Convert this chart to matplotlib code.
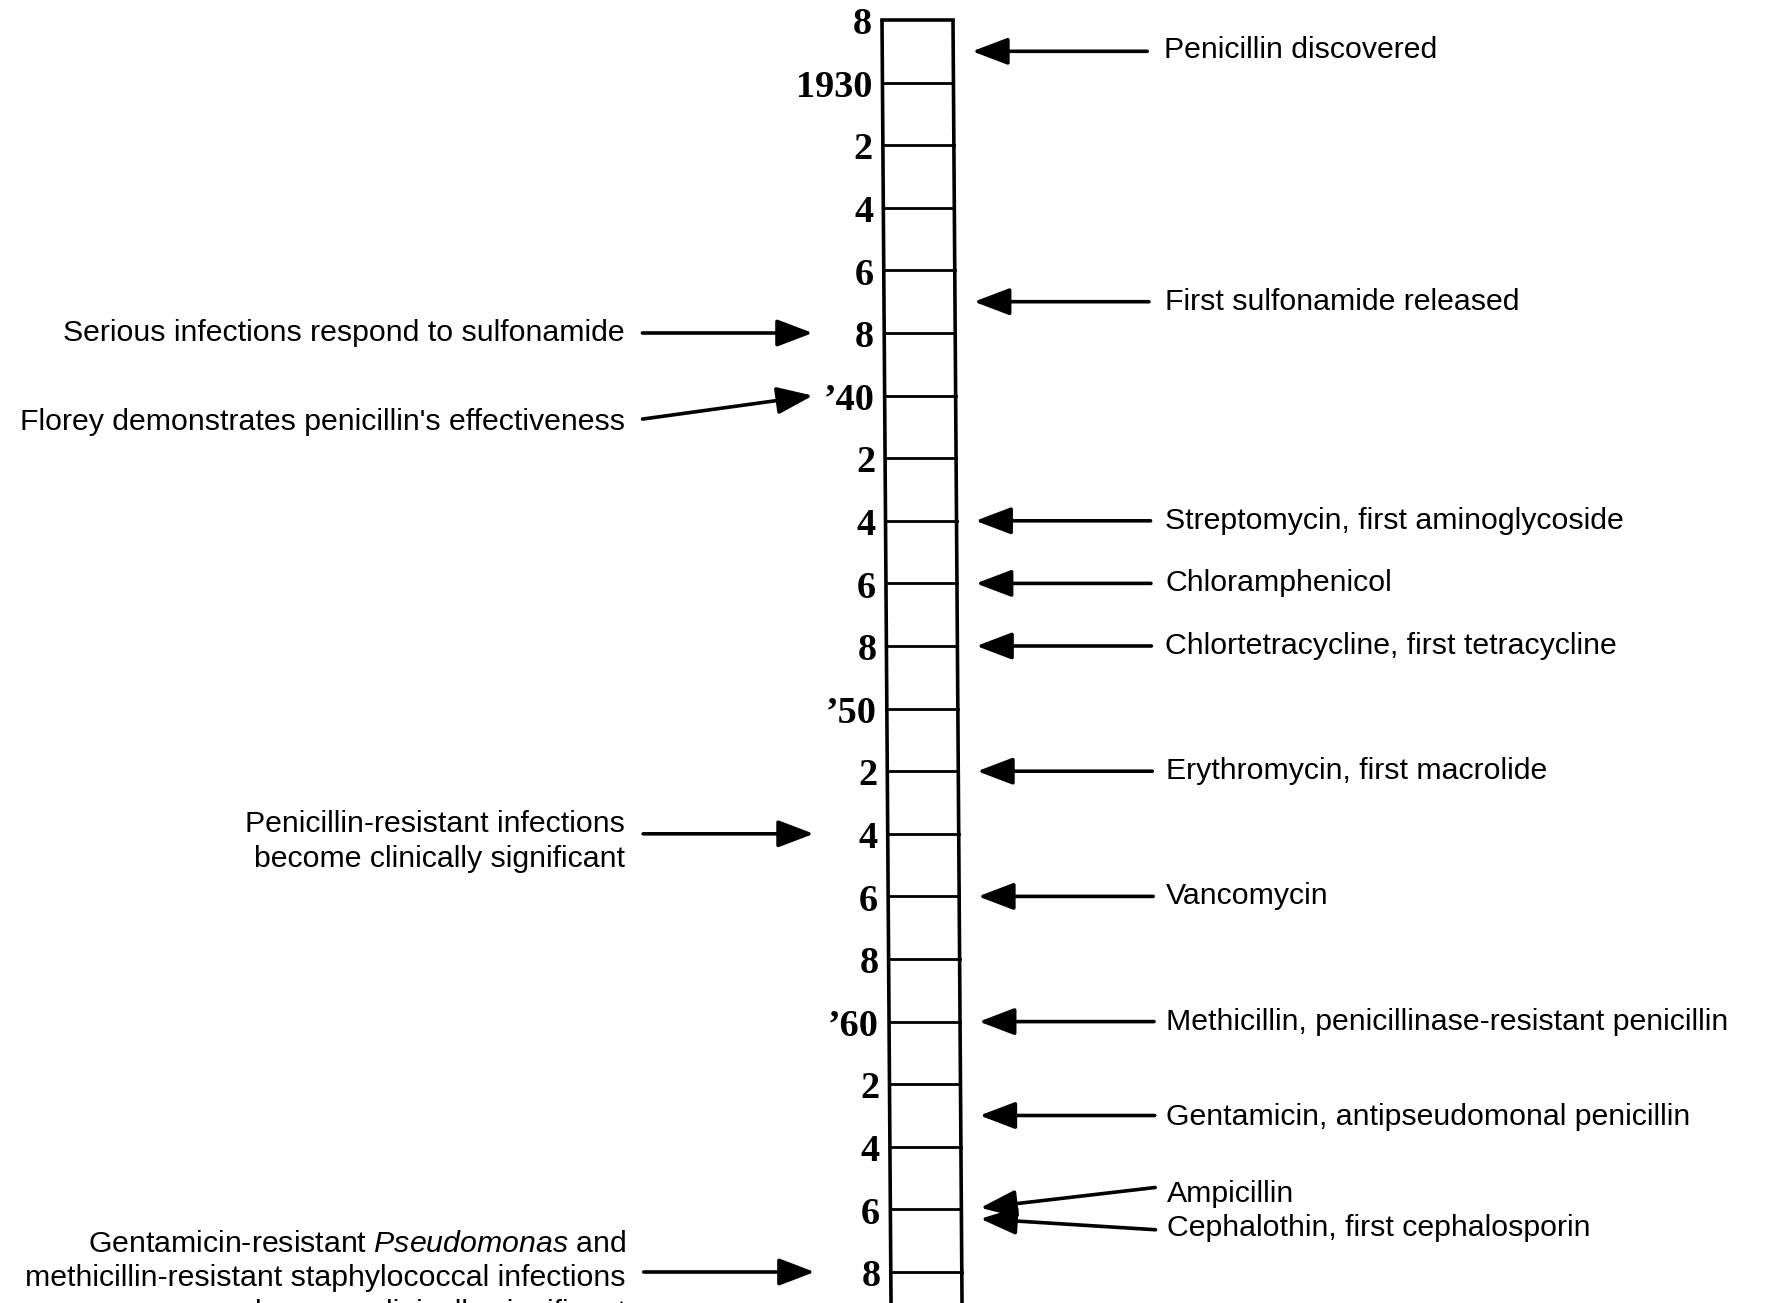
import matplotlib.pyplot as plt

plt.rcParams["mathtext.fontset"] = "custom"
plt.rcParams["mathtext.rm"] = "Liberation Sans"
plt.rcParams["mathtext.it"] = "Liberation Sans:italic"

# timeline scale: tick years and their labels
tick_years = list(range(1928, 1970, 2))
tick_labels = ["8", "1930", "2", "4", "6", "8", "\u201940", "2", "4", "6", "8",
               "\u201950", "2", "4", "6", "8", "\u201960", "2", "4", "6", "8"]

# events on the right (drug introduced): arrow head year, arrow tail year, text year
right_text = ["Penicillin discovered", "First sulfonamide released",
              "Streptomycin, first aminoglycoside", "Chloramphenicol",
              "Chlortetracycline, first tetracycline", "Erythromycin, first macrolide",
              "Vancomycin", "Methicillin, penicillinase-resistant penicillin",
              "Gentamicin, antipseudomonal penicillin", "Ampicillin",
              "Cephalothin, first cephalosporin"]
right_head = [1929.0, 1937.0, 1944.0, 1946.0, 1948.0, 1952.0, 1956.0, 1960.0, 1963.0, 1965.95, 1966.3]
right_tail = [1929.0, 1937.0, 1944.0, 1946.0, 1948.0, 1952.0, 1956.0, 1960.0, 1963.0, 1965.3, 1966.65]
right_ty = [1928.95, 1937.0, 1944.0, 1946.0, 1948.0, 1952.0, 1956.0, 1960.0, 1963.05, 1965.5, 1966.6]

# events on the left (clinical response / resistance)
left_text = ["Serious infections respond to sulfonamide",
             "Florey demonstrates penicillin's effectiveness",
             "Penicillin-resistant infections\nbecome clinically significant",
             "Gentamicin-resistant $\\it{Pseudomonas}$ and\nmethicillin-resistant staphylococcal infections\nbecome clinically significant"]
left_head = [1938.0, 1940.0, 1954.0, 1968.0]
left_tail = [1938.0, 1940.75, 1954.0, 1968.0]
left_ty = [1938.0, 1940.85, 1954.25, 1968.2]

PX = 31.3  # pixels per year


def skew(year):
    # the scanned page is slightly tilted
    return 0.22 * (year - 1928)


fig = plt.figure(figsize=(17.68, 13.03), dpi=100)
ax = fig.add_axes([0, 0, 1, 1])
ax.set_xlim(0, 1768)
ax.set_ylim(1928 + 1283 / PX, 1928 - 20 / PX)
ax.axis("off")

# the column
y0, y1 = tick_years[0], 1970
ax.plot([882 + skew(y0), 882 + skew(y1)], [y0, y1], color="black", lw=2.6, solid_capstyle="butt")
ax.plot([953 + skew(y0), 953 + skew(y1)], [y0, y1], color="black", lw=2.6, solid_capstyle="butt")
for yr, lab in zip(tick_years, tick_labels):
    ax.plot([882 + skew(yr), 953 + skew(yr)], [yr, yr], color="black",
            lw=2.6 if yr == y0 else 2.0)
    ax.text(872 + skew(yr), yr + 0.15, lab, ha="right", va="center",
            fontsize=27.5, fontweight="bold", family="Liberation Serif")

arrow = dict(arrowstyle="-|>,head_length=1.0,head_width=0.38", color="black",
             lw=2.6, shrinkA=0, shrinkB=0, mutation_scale=22)
txt = dict(fontsize=21.8, family="Liberation Sans", color="black")

for t, h, tl, ty in zip(right_text, right_head, right_tail, right_ty):
    ax.annotate("", xy=(972 + skew(h), h), xytext=(1147 + skew(tl), tl), arrowprops=arrow)
    ax.text(1164 + skew(ty) * 0.3, ty, t, ha="left", va="center", **txt)

for t, h, tl, ty in zip(left_text, left_head, left_tail, left_ty):
    ax.annotate("", xy=(812 + skew(h) * 0.3, h), xytext=(642 + skew(tl) * 0.2, tl), arrowprops=arrow)
    ax.text(624 + skew(ty) * 0.2, ty, t, ha="right", va="center",
            multialignment="right", linespacing=1.3, **txt)

fig.savefig("out.png", dpi=100)
